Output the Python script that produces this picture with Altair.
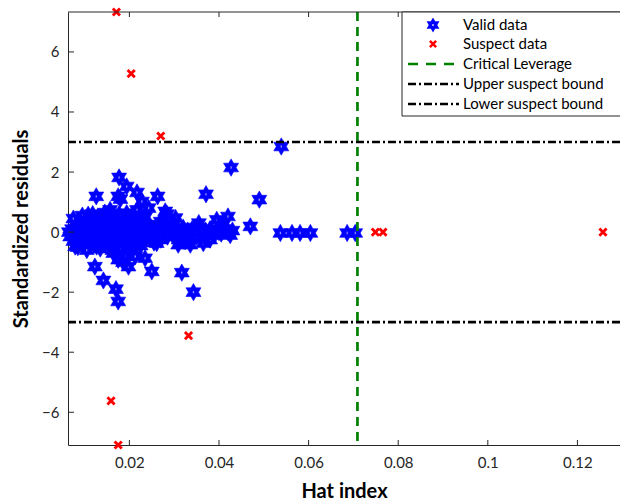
import altair as alt
import pandas as pd

# ---------------- data ----------------
valid_x = [
    0.0065, 0.0068, 0.0072, 0.0075, 0.0078, 0.0082, 0.0085, 0.0088, 0.009, 0.0093,
    0.0095, 0.0098, 0.01, 0.0103, 0.0105, 0.0108, 0.011, 0.0113, 0.0115, 0.0118,
    0.012, 0.0122, 0.0125, 0.0127, 0.013, 0.0132, 0.0135, 0.0137, 0.014, 0.0142,
    0.0145, 0.0148, 0.015, 0.0152, 0.0155, 0.0157, 0.016, 0.0162, 0.0165, 0.0167,
    0.017, 0.0172, 0.0175, 0.0177, 0.018, 0.0182, 0.0185, 0.0187, 0.019, 0.0192,
    0.0195, 0.0197, 0.02, 0.0203, 0.0205, 0.0208, 0.021, 0.0213, 0.0215, 0.0218,
    0.022, 0.0223, 0.0225, 0.0228, 0.023, 0.0233, 0.0235, 0.0238,
    0.024, 0.0245, 0.025, 0.0255, 0.026, 0.0265, 0.027, 0.0275, 0.028, 0.0285,
    0.029, 0.0295, 0.03, 0.0305, 0.031, 0.0315, 0.032, 0.0325, 0.033, 0.0335,
    0.034, 0.0345, 0.035, 0.0355, 0.036, 0.0365, 0.037, 0.0375, 0.038, 0.0385,
    0.039, 0.0395, 0.04, 0.0405, 0.041, 0.042, 0.0425, 0.043,
    0.0075, 0.0085, 0.0095, 0.0105, 0.0118, 0.0135, 0.0145, 0.0162, 0.0172, 0.0205,
    0.021, 0.0225, 0.0235, 0.0255, 0.027, 0.03, 0.0325, 0.0355, 0.038, 0.041,
    0.0539, 0.0427, 0.0371, 0.049, 0.042, 0.047, 0.0537, 0.0563, 0.0581, 0.0604,
    0.0686, 0.0704, 0.0177, 0.0194, 0.0126, 0.0175, 0.0217, 0.0263, 0.0228, 0.018,
    0.0217, 0.0243, 0.028, 0.0108, 0.0157, 0.0194, 0.0284, 0.0303, 0.0395, 0.0123,
    0.0142, 0.017, 0.0175, 0.025, 0.0317, 0.0343, 0.0175, 0.0198, 0.0186, 0.0213,
    0.0235, 0.0164, 0.0079, 0.0127, 0.0261, 0.0309, 0.0336, 0.0365, 0.018, 0.0205,
    0.019,
]
valid_y = [
    0.0, -0.15, 0.1, -0.3, 0.05, -0.1, 0.2, -0.25, 0.0, 0.3,
    -0.35, 0.1, -0.15, 0.35, 0.0, -0.3, 0.2, -0.05, 0.45, -0.2,
    0.1, -0.4, 0.3, 0.0, 0.5, -0.25, 0.15, -0.1, 0.4, -0.35,
    0.05, 0.25, -0.2, 0.55, 0.0, -0.45, 0.3, -0.1, 0.45, 0.1,
    -0.3, 0.2, -0.05, 0.6, -0.2, 0.35, 0.0, -0.4, 0.25, -0.15,
    0.5, 0.05, -0.3, 0.3, -0.1, 0.45, 0.0, -0.25, 0.2, -0.05,
    0.35, -0.3, 0.1, 0.4, -0.15, 0.05, 0.25, -0.2,
    0.0, 0.2, -0.2, 0.1, -0.05, 0.25, -0.25, 0.05, 0.15, -0.15,
    0.0, 0.2, -0.1, 0.1, -0.25, 0.0, 0.15, -0.1, 0.05, -0.2,
    0.1, 0.0, -0.15, 0.15, 0.0, -0.1, 0.05, -0.05, 0.1, 0.0,
    -0.1, 0.05, 0.0, -0.05, 0.1, 0.0, -0.1, 0.05,
    0.45, -0.5, 0.55, -0.6, 0.6, -0.55, 0.65, -0.6, 0.5, -0.5,
    0.55, -0.45, 0.5, -0.35, 0.35, 0.3, -0.3, 0.3, -0.25, 0.3,
    2.85, 2.15, 1.26, 1.08, 0.52, 0.19, -0.03, -0.03, -0.03, -0.03,
    -0.03, -0.03, 1.82, 1.52, 1.19, 1.19, 1.32, 1.19, 1.02, 1.1,
    0.74, 0.8, 0.69, 0.58, 0.74, 0.63, 0.6, 0.47, 0.41, -1.15,
    -1.61, -1.9, -2.31, -1.31, -1.35, -2.0, -0.92, -1.15, -1.0, -0.81,
    -0.87, -0.7, -0.48, -0.48, -0.37, -0.42, -0.42, -0.37, -0.55, -0.6,
    -0.8,
]
suspect_x = [0.0171, 0.0204, 0.0270, 0.0332, 0.0159, 0.0175, 0.0749, 0.0766, 0.1257]
suspect_y = [7.33, 5.28, 3.2, -3.45, -5.62, -7.09, 0.0, 0.0, 0.0]
critical_leverage = [0.0709]
suspect_bounds = [3, -3]
x_ticks = [0.02, 0.04, 0.06, 0.08, 0.1, 0.12]
y_ticks = [-6, -4, -2, 0, 2, 4, 6]
legend_labels = ["Valid data", "Suspect data", "Critical Leverage",
                 "Upper suspect bound", "Lower suspect bound"]

# ---------------- styling ----------------
W, H = 552, 433
FONT = "Lato"
AX = "#262626"
BLUE = "#0000ff"
RED = "#ff0000"
GREEN = "#008000"
DASHDOT = [8, 3, 2, 3]
DASH = [9, 6]
LW = 2.7

HEX = ("M0,-1L0.2887,-0.5L0.866,-0.5L0.5774,0L0.866,0.5L0.2887,0.5L0,1"
       "L-0.2887,0.5L-0.866,0.5L-0.5774,0L-0.866,-0.5L-0.2887,-0.5Z"
       "M-0.08,-0.14L-0.08,0.14L0.08,0.14L0.08,-0.14Z")
XMARK = ("M-0.5625,-1L1,0.5625L0.5625,1L-1,-0.5625Z"
         "M-0.5625,1L-1,0.5625L0.5625,-1L1,-0.5625Z")

xs = alt.Scale(domain=[0.0063, 0.1295], nice=False, zero=False)
ys = alt.Scale(domain=[-7.09, 7.33], nice=False, zero=False)

valid_df = pd.DataFrame({"x": valid_x, "y": valid_y})
suspect_df = pd.DataFrame({"x": suspect_x, "y": suspect_y})
crit_df = pd.DataFrame({"c": critical_leverage})
bound_df = pd.DataFrame({"b": suspect_bounds})
xt_df = pd.DataFrame({"tx": x_ticks})
yt_df = pd.DataFrame({"ty": y_ticks})
one = pd.DataFrame({"a": [0]})

common = dict(ticks=False, grid=False, domainColor=AX, domainWidth=1,
              labelFont=FONT, labelFontSize=15, labelColor=AX,
              titleFont=FONT, titleFontSize=20, titleFontWeight="bold", titleColor="black")
x_axis = alt.Axis(values=x_ticks, format="~g", title="Hat index",
                  labelPadding=10, titlePadding=11, **common)
y_axis = alt.Axis(values=y_ticks, title="Standardized residuals",
                  labelPadding=9, titlePadding=10, **common)


def X(field):
    return alt.X(field, type="quantitative", scale=xs, axis=x_axis, title="Hat index")


def Y(field):
    return alt.Y(field, type="quantitative", scale=ys, axis=y_axis, title="Standardized residuals")


valid = alt.Chart(valid_df).mark_point(
    shape=HEX, filled=True, color=BLUE, size=300, opacity=1,
    stroke=BLUE, strokeWidth=0.6
).encode(x=X("x"), y=Y("y"))

suspect = alt.Chart(suspect_df).mark_point(
    shape=XMARK, filled=True, color=RED, size=85, opacity=1
).encode(x=X("x"), y=Y("y"))

crit = alt.Chart(crit_df).mark_rule(
    color=GREEN, strokeWidth=LW, strokeDash=DASH
).encode(x=X("c"))

bounds = alt.Chart(bound_df).mark_rule(
    color="black", strokeWidth=LW, strokeDash=DASHDOT
).encode(y=Y("b"))

# inward ticks and top frame line
bt = alt.Chart(xt_df).mark_rule(color=AX).encode(
    x=X("tx"), y=alt.value(H), y2=alt.value(H - 5))
tt = alt.Chart(xt_df).mark_rule(color=AX).encode(
    x=X("tx"), y=alt.value(0), y2=alt.value(5))
lt = alt.Chart(yt_df).mark_rule(color=AX).encode(
    y=Y("ty"), x=alt.value(0), x2=alt.value(6))
top = alt.Chart(one).mark_rule(color=AX, strokeWidth=1).encode(
    x=alt.value(0), x2=alt.value(W + 5), y=alt.value(0))

# legend box
LX = 334
box = alt.Chart(one).mark_rect(fill="white", stroke=AX, strokeWidth=1).encode(
    x=alt.value(LX), x2=alt.value(W + 10), y=alt.value(0), y2=alt.value(104))
rows = [13, 32, 52, 72, 92]
leg_layers = [box]
leg_layers.append(alt.Chart(one).mark_point(shape=HEX, filled=True, color=BLUE, size=220, opacity=1)
                  .encode(x=alt.value(365), y=alt.value(rows[0])))
leg_layers.append(alt.Chart(one).mark_point(shape=XMARK, filled=True, color=RED, size=64, opacity=1)
                  .encode(x=alt.value(365), y=alt.value(rows[1])))
leg_layers.append(alt.Chart(one).mark_rule(color=GREEN, strokeWidth=LW, strokeDash=[10, 8])
                  .encode(x=alt.value(340), x2=alt.value(391), y=alt.value(rows[2])))
for r in rows[3:]:
    leg_layers.append(alt.Chart(one).mark_rule(color="black", strokeWidth=LW, strokeDash=DASHDOT)
                      .encode(x=alt.value(340), x2=alt.value(391), y=alt.value(r)))
for lab, r in zip(legend_labels, rows):
    leg_layers.append(alt.Chart(one).mark_text(align="left", baseline="middle", font=FONT,
                                               fontSize=15, color="black")
                      .encode(x=alt.value(395), y=alt.value(r), text=alt.value(lab)))

chart = alt.layer(valid, suspect, crit, bounds, bt, tt, lt, top, *leg_layers).properties(
    width=W, height=H,
    padding={"left": 68, "top": 12, "right": 0, "bottom": 59},
    autosize=alt.AutoSizeParams(type="none"),
    background="white",
).configure_view(strokeWidth=0)

chart.save("out.html", embed_options={"renderer": "svg", "actions": False})
